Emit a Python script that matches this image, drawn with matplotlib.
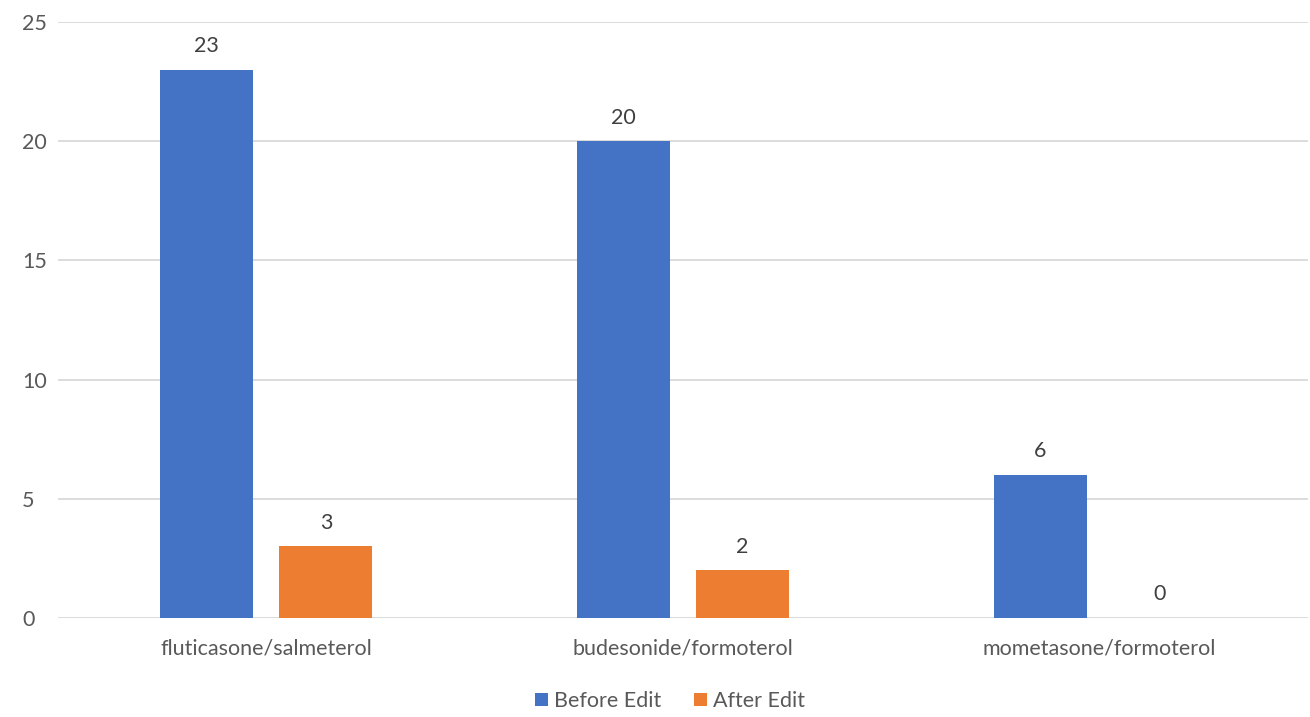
import numpy as np
import matplotlib.pyplot as plt

categories = ["fluticasone/salmeterol", "budesonide/formoterol", "mometasone/formoterol"]
before_edit = [23, 20, 6]
after_edit = [3, 2, 0]
series_names = ["Before Edit", "After Edit"]

plt.rcParams['font.family'] = ['Lato', 'DejaVu Sans']
text_color = "#595959"

fig = plt.figure(figsize=(13.1, 7.17), dpi=100)
ax = fig.add_axes([58 / 1310, 99 / 717, 1250 / 1310, 596 / 717])

x = np.arange(len(categories))
width = 0.223
offset = 0.143
b1 = ax.bar(x - offset, before_edit, width, color="#4472C4", label=series_names[0], zorder=3)
b2 = ax.bar(x + offset, after_edit, width, color="#ED7D31", label=series_names[1], zorder=3)

for bars in (b1, b2):
    for rect in bars:
        h = rect.get_height()
        ax.annotate(f"{h:g}", (rect.get_x() + rect.get_width() / 2, h),
                    xytext=(0, 17), textcoords="offset points",
                    ha="center", va="center", fontsize=15.5, color="#404040")

ax.set_xlim(-0.5, len(categories) - 0.5)
ax.set_ylim(0, 25)
ax.set_yticks(range(0, 26, 5))
ax.set_xticks(x)
ax.set_xticklabels(categories)
ax.tick_params(axis="both", length=0, labelsize=15.5, labelcolor=text_color)
ax.tick_params(axis="x", pad=15)
ax.tick_params(axis="y", pad=26)
for lbl in ax.get_yticklabels():
    lbl.set_horizontalalignment("left")
ax.grid(axis="y", color="#d9d9d9", linewidth=1.3, zorder=0)
for s in ax.spines.values():
    s.set_visible(False)

fig.legend(handles=[b1, b2], loc="center", bbox_to_anchor=(670 / 1310, 1 - 701 / 717),
           ncol=2, frameon=False, fontsize=15.5, labelcolor=text_color,
           handlelength=0.6, handleheight=0.6, handletextpad=0.3, columnspacing=1.5)

fig.savefig("out.png", dpi=100)
